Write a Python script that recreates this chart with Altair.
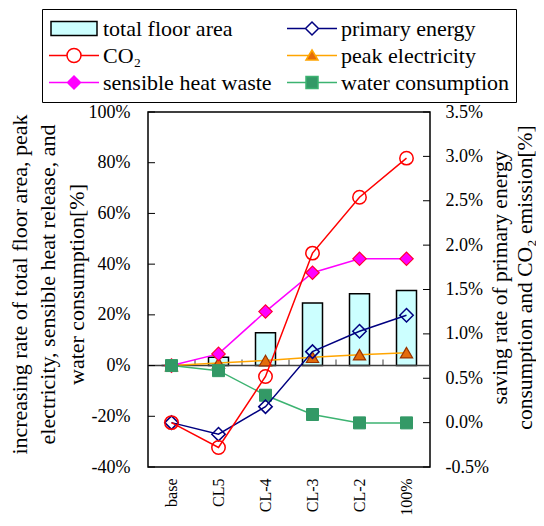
import altair as alt
import pandas as pd

# ---------------- data ----------------
categories = ["base", "CL5", "CL-4", "CL-3", "CL-2", "100%"]

floor_area = [0.0, 3.3, 12.9, 24.7, 28.3, 29.6]          # left axis [%]
peak_electricity = [0.0, 1.0, 2.0, 3.3, 4.3, 5.1]        # left axis [%]
sensible_heat = [0.0, 4.6, 21.3, 36.6, 42.1, 42.1]       # left axis [%]
water = [0.0, -2.0, -11.7, -19.3, -22.6, -22.6]          # left axis [%]
primary_energy = [0.0, -0.13, 0.18, 0.80, 1.03, 1.21]    # right axis [%]
co2 = [0.0, -0.28, 0.52, 1.91, 2.54, 2.98]               # right axis [%]

series_names = ["total floor area", "primary energy", "CO\u2082",
                "peak electricity", "sensible heat waste", "water consumption"]

left_ticks = [-40, -20, 0, 20, 40, 60, 80, 100]
right_ticks = [-0.5, 0.0, 0.5, 1.0, 1.5, 2.0, 2.5, 3.0, 3.5]

left_title = ["increasing rate of total floor area, peak",
              "electricity, sensible heat release, and",
              "water consumption[%]"]
right_title = ["saving rate of primary energy",
               "consumption and CO\u2082 emission[%]"]

# ---------------- styles ----------------
W, H = 282, 355
FONT = "Liberation Serif"
C_BAR = "#CCFFFF"
C_PE = "#000080"
C_CO2 = "#FF0000"
C_PEAK_LINE = "#FFA500"
C_PEAK_FILL = "#E46C0A"
C_PEAK_STROKE = "#993300"
C_SH = "#FF00FF"
C_SH_STROKE = "#FF0033"
C_W_LINE = "#3CB371"
C_W_FILL = "#339966"

rows = []
for name, vals in zip(series_names, [floor_area, primary_energy, co2,
                                     peak_electricity, sensible_heat, water]):
    for c, v in zip(categories, vals):
        rows.append({"cat": c, "series": name, "value": v})
df = pd.DataFrame(rows)

xs = alt.Scale(domain=categories, paddingInner=0, paddingOuter=0)
left_scale = alt.Scale(domain=[-40, 100], nice=False, zero=False)
right_scale = alt.Scale(domain=[-0.5, 3.5], nice=False, zero=False)

x_axis = alt.Axis(title=None, labelAngle=270, labelAlign="right", labelBaseline="middle",
                  labelPadding=11, ticks=False, tickSize=0, domain=False, grid=False,
                  labelFontSize=16, labelFont=FONT, labelColor="black")

left_axis = alt.Axis(values=left_ticks, grid=False, domain=False, ticks=False, tickSize=0,
                     labelPadding=18, labelFontSize=18, labelFont=FONT, labelColor="black",
                     labelBaseline="middle", labelFlush=False,
                     labelExpr="(datum.value < 0 ? '-' : '') + format(abs(datum.value), '.0f') + '%'",
                     title=left_title, titleFont=FONT, titleFontSize=22, titleFontWeight="normal",
                     titleColor="black", titleAngle=270, titleAlign="center",
                     titleBaseline="alphabetic", titleX=-122, titleY=172, titleLineHeight=28.5)

right_axis = alt.Axis(orient="right", values=right_ticks, grid=False, domain=False, ticks=False,
                      tickSize=0, labelPadding=15, labelFontSize=18, labelFont=FONT,
                      labelColor="black", labelBaseline="middle", labelFlush=False,
                      labelExpr="(datum.value < 0 ? '-' : '') + format(abs(datum.value), '.1f') + '%'",
                      title=right_title, titleFont=FONT, titleFontSize=21.5,
                      titleFontWeight="normal", titleColor="black", titleAngle=270,
                      titleAlign="center", titleBaseline="alphabetic", titleX=76, titleY=165,
                      titleLineHeight=25)

base = alt.Chart(df)


def sel(name):
    return base.transform_filter(alt.datum.series == name)


def xenc(axis=None):
    if axis is None:
        return alt.X("cat:N", scale=xs, sort=categories)
    return alt.X("cat:N", scale=xs, sort=categories, axis=axis)


def yl(axis=None):
    if axis is None:
        return alt.Y("value:Q", scale=left_scale)
    return alt.Y("value:Q", scale=left_scale, axis=axis)


def yr(axis=None):
    if axis is None:
        return alt.Y("value:Q", scale=right_scale)
    return alt.Y("value:Q", scale=right_scale, axis=axis)


bars = sel("total floor area").mark_bar(
    size=20, fill=C_BAR, stroke="black", strokeWidth=1.5, opacity=1).encode(
    x=xenc(x_axis), y=yl(left_axis))

zero_line = alt.Chart(pd.DataFrame({"value": [0]})).mark_rule(
    color="#404040", strokeWidth=1.5).encode(
    x=alt.value(0), x2=alt.value(W), y=yl())

boundary_ticks = alt.Chart(pd.DataFrame({"cat": categories[1:], "value": [0] * (len(categories) - 1)})).mark_tick(
    orient="vertical", size=6, thickness=1, yOffset=-3, color="#404040", opacity=1).encode(
    x=alt.X("cat:N", scale=xs, sort=categories, bandPosition=0), y=yl())

left_tick_marks = alt.Chart(pd.DataFrame({"value": left_ticks})).mark_rule(
    color="black", strokeWidth=1).encode(
    x=alt.value(0), x2=alt.value(7), y=yl())

right_tick_marks = alt.Chart(pd.DataFrame({"value": right_ticks})).mark_rule(
    color="black", strokeWidth=1).encode(
    x=alt.value(W - 7), x2=alt.value(W), y=yr())

peak_line = sel("peak electricity").mark_line(color=C_PEAK_LINE, strokeWidth=1.5).encode(x=xenc(), y=yl())
peak_pts = sel("peak electricity").mark_point(
    shape="triangle-up", size=150, filled=True, fill=C_PEAK_FILL, stroke=C_PEAK_STROKE,
    strokeWidth=1.2, opacity=1).encode(x=xenc(), y=yl())

sh_line = sel("sensible heat waste").mark_line(color=C_SH, strokeWidth=1.5).encode(x=xenc(), y=yl())
sh_pts = sel("sensible heat waste").mark_point(
    shape="diamond", size=180, filled=True, fill=C_SH, stroke=C_SH_STROKE,
    strokeWidth=1.2, opacity=1).encode(x=xenc(), y=yl())

w_line = sel("water consumption").mark_line(color=C_W_LINE, strokeWidth=1.5).encode(x=xenc(), y=yl())
w_pts = sel("water consumption").mark_point(
    shape="square", size=144, filled=True, fill=C_W_FILL, stroke=C_W_FILL,
    strokeWidth=1, opacity=1).encode(x=xenc(), y=yl())

pe_line = sel("primary energy").mark_line(color=C_PE, strokeWidth=1.5).encode(x=xenc(), y=yr(right_axis))
pe_pts = sel("primary energy").mark_point(
    shape="diamond", size=180, filled=False, stroke=C_PE, strokeWidth=1.5, opacity=1).encode(
    x=xenc(), y=yr())

co2_line = sel("CO\u2082").mark_line(color=C_CO2, strokeWidth=1.5).encode(x=xenc(), y=yr())
co2_pts = sel("CO\u2082").mark_point(
    shape="circle", size=180, filled=False, stroke=C_CO2, strokeWidth=1.5, opacity=1).encode(
    x=xenc(), y=yr())

legend_paths = [
    "M-0.92,-0.28L0.92,-0.28L0.92,0.28L-0.92,0.28Z",
    "M-1,0L-0.26,0M0.26,0L1,0M-0.26,0L0,-0.26L0.26,0L0,0.26Z",
    "M-1,0L-0.28,0M0.28,0L1,0M-0.28,0A0.28,0.28,0,1,0,0.28,0A0.28,0.28,0,1,0,-0.28,0Z",
    "M-1,0L-0.13,0M0.13,0L1,0M0,-0.22L0.24,0.18L-0.24,0.18Z",
    "M-1,0L-0.26,0M0.26,0L1,0M-0.26,0L0,-0.26L0.26,0L0,0.26Z",
    "M-1,0L-0.24,0M0.24,0L1,0M-0.24,-0.24L0.24,-0.24L0.24,0.24L-0.24,0.24Z",
]
legend_fills = [C_BAR, "white", "white", C_PEAK_FILL, C_SH, C_W_FILL]
legend_strokes = ["black", C_PE, C_CO2, C_PEAK_LINE, C_SH, C_W_LINE]

leg = alt.Legend(title=None, orient="none", legendX=-106, legendY=-103, columns=2,
                 direction="horizontal",
                 symbolSize=2500, symbolStrokeWidth=1.5, labelFont=FONT, labelFontSize=22,
                 labelColor="black", labelOffset=3, labelLimit=400, columnPadding=14,
                 rowPadding=0, clipHeight=27, padding=6, strokeColor="black",
                 fillColor="white")

legend_layer = alt.Chart(df).transform_filter("false").mark_point(
    filled=True, opacity=1, strokeWidth=1.5).encode(
    shape=alt.Shape("series:N", scale=alt.Scale(domain=series_names, range=legend_paths), legend=leg),
    fill=alt.Fill("series:N", scale=alt.Scale(domain=series_names, range=legend_fills), legend=leg),
    stroke=alt.Stroke("series:N", scale=alt.Scale(domain=series_names, range=legend_strokes), legend=leg),
)

left = alt.layer(bars, zero_line, boundary_ticks, left_tick_marks,
                 peak_line, peak_pts, sh_line, sh_pts, w_line, w_pts, legend_layer)
right = alt.layer(pe_line, pe_pts, co2_line, co2_pts, right_tick_marks)

chart = alt.layer(left, right).resolve_scale(y="independent").properties(
    width=W, height=H,
    padding=0,
).configure(font=FONT).configure_view(
    stroke="black", strokeWidth=1.5
).configure_axis(
    labelFont=FONT, titleFont=FONT, labelColor="black", titleColor="black"
).configure_legend(labelFont=FONT, labelColor="black")

chart.save("out.html", embed_options={"renderer": "svg", "actions": False})
